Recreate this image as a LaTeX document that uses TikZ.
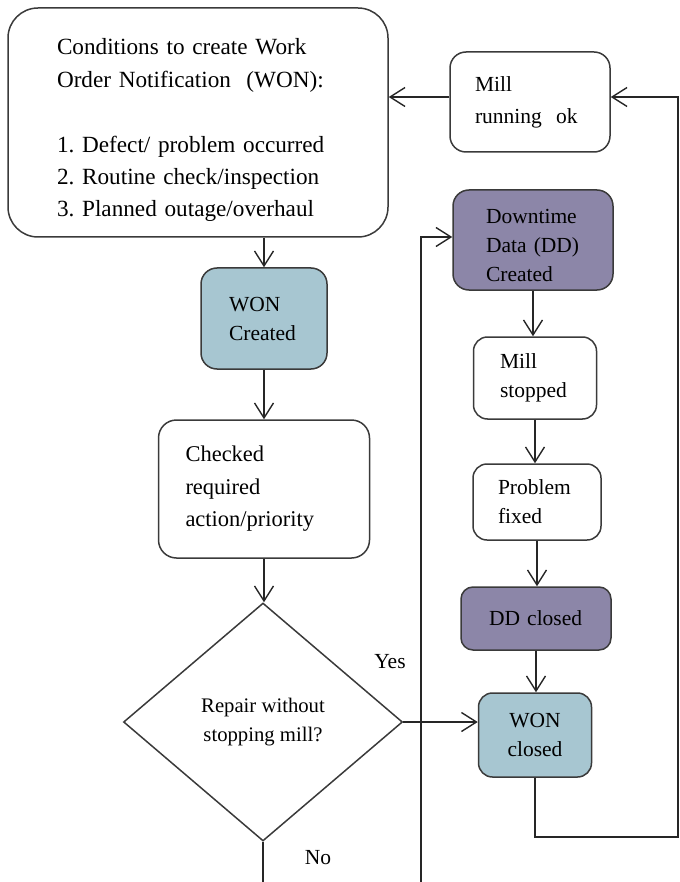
\documentclass[tikz,border=0pt]{standalone}
\usepackage{fontspec}
\setmainfont{Liberation Serif}
\usetikzlibrary{arrows.meta,shapes.geometric}
\frenchspacing

\definecolor{wonblue}{HTML}{A7C6D1}
\definecolor{ddpurple}{HTML}{8C86A8}
\definecolor{edgegray}{HTML}{3A3A3A}

% invisible strut that lowers a multi-line label inside its box
\newcommand{\lowerby}[1]{\rule{0pt}{#1}}

\tikzset{
  boxbase/.style={draw=edgegray, line width=1.5pt, inner sep=0pt, align=left},
  condtext/.style={font=\fontsize{23.2}{32.4}\selectfont},
  bigtext/.style={font=\fontsize{22.5}{32.5}\selectfont},
  midtext/.style={font=\fontsize{21.5}{29}\selectfont},
  smalltext/.style={font=\fontsize{20.7}{29}\selectfont},
  flow/.style={draw=black!85, line width=1.5pt, -{Straight Barb[length=15pt,width=19pt,line width=1.4pt]}},
  plainline/.style={draw=black!85, line width=1.5pt},
}

\begin{document}
\begin{tikzpicture}[x=1pt,y=-1pt]
\useasboundingbox (0,0) rectangle (679,882);

% conditions box
\node[boxbase, condtext, rounded corners=30pt, minimum width=380pt, minimum height=229pt, text width=282pt]
  (cond) at (198,122.5)
  {\lowerby{32pt}Conditions to create Work\\Order Notification\ \ (WON):\\[32.4pt]1. Defect/ problem occurred\\2. Routine check/inspection\\3. Planned outage/overhaul};

% mill running ok
\node[boxbase, font=\fontsize{21.5}{32}\selectfont, rounded corners=16pt, minimum width=160pt, minimum height=100pt, text width=110pt]
  (millok) at (530,102) {Mill\\running\ \ ok};

% work order created
\node[boxbase, midtext, fill=wonblue, rounded corners=16pt, minimum width=126pt, minimum height=101pt, text width=70pt]
  (wonc1) at (264,318.5) {WON\\Created};

% checked action
\node[boxbase, bigtext, rounded corners=18pt, minimum width=211pt, minimum height=138pt, text width=157pt]
  (check) at (264,489) {Checked\\required\\action/priority};

% decision
\node[draw=edgegray, line width=1.5pt, diamond, inner sep=0pt, minimum width=279pt, minimum height=238pt,
      smalltext, align=center]
  (dec) at (263,722) {Repair without\\stopping mill?};

% downtime data created
\node[boxbase, midtext, fill=ddpurple, rounded corners=16pt, minimum width=160pt, minimum height=100pt, text width=94pt]
  (ddc) at (533,240) {\lowerby{26pt}Downtime\\Data (DD)\\Created};

% mill stopped
\node[boxbase, midtext, rounded corners=14pt, minimum width=123pt, minimum height=82pt, text width=70pt]
  (mstop) at (535,378) {Mill\\stopped};

% problem fixed
\node[boxbase, midtext, rounded corners=14pt, minimum width=128pt, minimum height=76pt, text width=78pt]
  (pfix) at (537,502) {Problem\\fixed};

% downtime data closed
\node[boxbase, midtext, fill=ddpurple, rounded corners=12pt, minimum width=150pt, minimum height=63pt, text width=94pt, align=left]
  (ddcl) at (536,618.5) {DD closed};

% work order closed
\node[boxbase, midtext, fill=wonblue, rounded corners=14pt, minimum width=113pt, minimum height=84pt, align=center]
  (woncl) at (535,735) {WON\\closed};

% branch labels
\node[midtext] (yes) at (390,662) {Yes};
\node[midtext] (no) at (318,858) {No};

% free ends leaving the lower edge
\coordinate (noend) at (263,882);
\coordinate (ddfeed) at (421,882);
\coordinate (loopcorner) at (678,837);

% main chain
\draw[flow] (wonc1.north |- cond.south) -- (wonc1.north);
\draw[flow] (wonc1.south) -- (check.north -| wonc1.south);
\draw[flow] (check.south) -- (check.south |- dec.north);
\draw[flow] (dec.east) -- (dec.east -| woncl.west);
\draw[plainline] (dec.south) -- (noend);

% downtime chain
\draw[flow] (ddfeed) |- ([yshift=3pt]ddc.west);
\draw[flow] (ddc.south) -- (ddc.south |- mstop.north);
\draw[flow] (mstop.south) -- (mstop.south |- pfix.north);
\draw[flow] (pfix.south) -- (pfix.south |- ddcl.north);
\draw[flow] (ddcl.south) -- (ddcl.south |- woncl.north);

% return loop
\draw[flow] (woncl.south) |- (loopcorner) |- ([yshift=5pt]millok.east);
\draw[flow] ([yshift=5pt]millok.west) -- ([yshift=5pt]millok.west -| cond.east);
\end{tikzpicture}
\end{document}
